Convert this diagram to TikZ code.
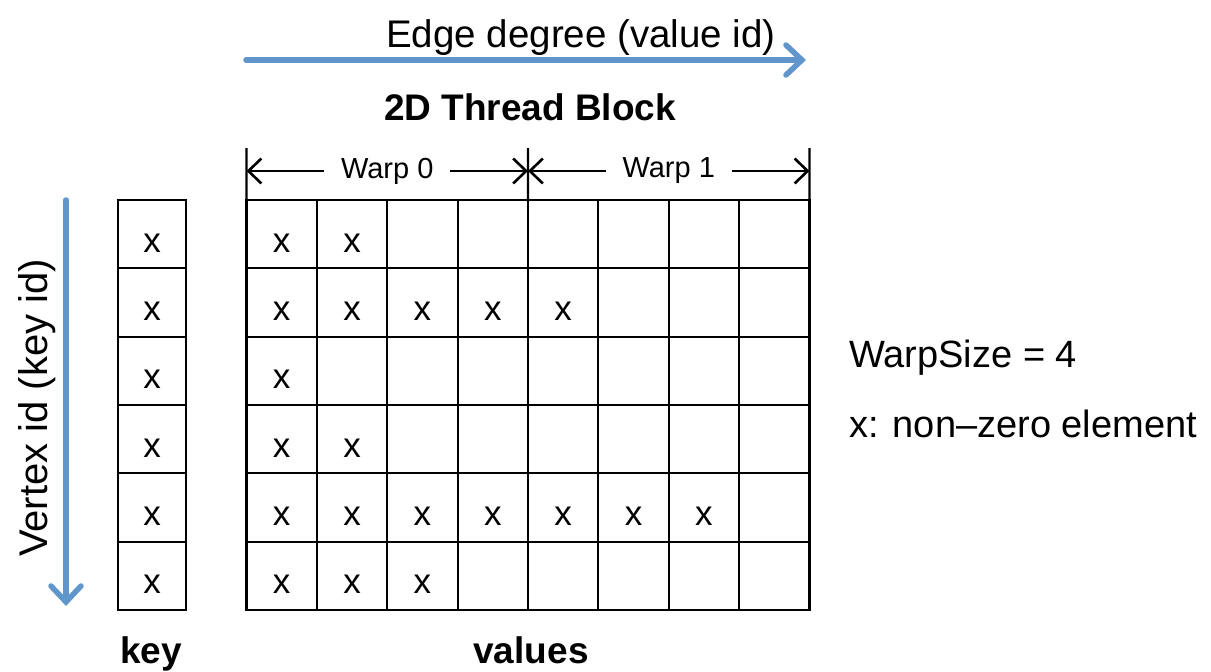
\documentclass[tikz,border=0pt]{standalone}
\usepackage{fontspec}
\setmainfont{Liberation Sans}
\usetikzlibrary{arrows.meta}
\definecolor{flowblue}{RGB}{97,150,205}
\tikzset{
  cell/.style={draw=black, line width=2.2pt, minimum width=70.4pt, minimum height=68.3pt,
    inner sep=0pt, outer sep=0pt, text height=36pt, text depth=0pt,
    font=\fontsize{35}{36}\selectfont},
  keycell/.style={cell, minimum width=68pt},
  flow/.style={draw=flowblue, line width=5.5pt, line cap=round,
    -{Straight Barb[length=16pt,width=30pt,line cap=round]}},
  tick/.style={draw=black, line width=2.2pt},
  warparrow/.style={draw=black, line width=2.6pt,
    {Straight Barb[length=13pt,width=25pt]}-{Straight Barb[length=13pt,width=25pt]}},
  warplabel/.style={fill=white, inner xsep=17pt, inner ysep=2pt, font=\fontsize{29}{32}\selectfont},
  txt/.style={inner sep=0pt, font=\fontsize{38}{40}\selectfont},
  bold/.style={inner sep=0pt, font=\fontsize{37}{40}\selectfont\bfseries},
}
\begin{document}
\begin{tikzpicture}[x=1pt,y=-1pt]
\useasboundingbox (0,0) rectangle (1211,672);

% key column
\foreach \r in {1,...,6}
  \node[keycell] (k-\r) at (152,{200+68.333*(\r-0.5)}) {x};

% values grid: number of non-zero entries per row
\foreach \r/\n in {1/2,2/5,3/1,4/2,5/7,6/3}
  \foreach \c in {1,...,8}{
    \ifnum\c>\n
      \node[cell] (v-\r-\c) at ({246.5+70.375*(\c-0.5)},{200+68.333*(\r-0.5)}) {};
    \else
      \node[cell] (v-\r-\c) at ({246.5+70.375*(\c-0.5)},{200+68.333*(\r-0.5)}) {x};
    \fi
  }

% warp brackets
\coordinate (t0) at (246.5,148);
\coordinate (t1) at (528,148);
\coordinate (t2) at (809.5,148);
\coordinate (a0) at (246.5,171);
\coordinate (a1) at (528,171);
\coordinate (a2) at (809.5,171);
\draw[tick] (t0) -- (v-1-1.north west);
\draw[tick] (t1) -- (v-1-4.north east);
\draw[tick] (t2) -- (v-1-8.north east);
\draw[warparrow] (a0) -- node[warplabel] (w0) {Warp 0} (a1);
\draw[warparrow] (a1) -- node[warplabel] (w1) {Warp 1} (a2);

% direction arrows
\coordinate (h0) at (246,60);
\coordinate (h1) at (806,60);
\coordinate (d0) at (66,200);
\coordinate (d1) at (66,606);
\draw[flow] (h0) -- (h1);
\draw[flow] (d0) -- (d1);

% labels
\node[txt, anchor=base, font=\fontsize{38.5}{40}\selectfont] (edge) at (581,47) {Edge degree (value id)};
\node[bold, anchor=base] (block) at (530,120) {2D Thread Block};
\node[txt, rotate=90, font=\fontsize{40}{42}\selectfont] (vertex) at (37,408) {Vertex id (key id)};
\node[bold, anchor=base] (keylbl) at (151,663) {key};
\node[bold, anchor=base] (vallbl) at (531,663) {values};
\node[txt, anchor=base west] (wsize) at (849,367) {WarpSize = 4};
\node[txt, anchor=base west] (nonzero) at (849,437) {x: non--zero element};
\end{tikzpicture}
\end{document}
